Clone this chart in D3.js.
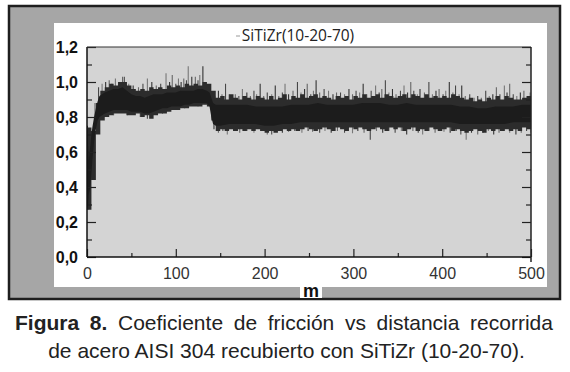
<!DOCTYPE html>
<html lang="es">
<head>
<meta charset="UTF-8">
<title>Figura 8</title>
<script src="https://d3js.org/d3.v7.min.js"></script>
<style>
    body { margin: 0; background: #fff; }
    svg { display: block; }
    .ylab text { font-family: "Liberation Sans", Arial, sans-serif; font-size: 16px; font-weight: bold; fill: #111; }
    .xlab text { font-family: "Liberation Sans", Arial, sans-serif; font-size: 16px; fill: #333; }
    .title { font-family: "Open Sans", sans-serif; font-size: 15.5px; fill: #222; }
    .caption { font-family: "Liberation Sans", Arial, sans-serif; font-size: 21px; fill: #222; }
</style>
</head>
<body>
<div id="chart"></div>
<script>

// distance (m) knots and the dense dark core of the trace (friction coefficient)
const dist   = [0, 1, 2, 3, 4, 5, 6, 8, 10, 12, 14, 17, 20, 25, 30, 35, 40, 45, 50, 55, 60, 65, 70, 75, 80, 85, 90, 95, 100,
                105, 110, 115, 120, 125, 130, 135, 138, 140, 142, 145, 150, 160, 170, 180, 190, 200, 210, 220, 230, 240, 250,
                260, 270, 280, 290, 300, 310, 320, 330, 340, 350, 360, 370, 380, 390, 400, 410, 420, 430, 440, 450, 460, 470,
                480, 490, 500];
const coreLo = [0.30, 0.28, 0.36, 0.38, 0.42, 0.48, 0.55, 0.66, 0.73, 0.78, 0.80, 0.81, 0.82, 0.83, 0.84, 0.84, 0.84, 0.84,
                0.83, 0.83, 0.83, 0.82, 0.82, 0.83, 0.84, 0.85, 0.85, 0.86, 0.86, 0.86, 0.87, 0.87, 0.88, 0.88, 0.88, 0.88,
                0.86, 0.80, 0.76, 0.75, 0.75, 0.76, 0.76, 0.76, 0.76, 0.75, 0.75, 0.76, 0.76, 0.77, 0.77, 0.77, 0.77, 0.77,
                0.77, 0.77, 0.77, 0.77, 0.77, 0.77, 0.77, 0.77, 0.77, 0.77, 0.77, 0.77, 0.77, 0.76, 0.76, 0.76, 0.76, 0.76,
                0.76, 0.77, 0.77, 0.77];
const coreHi = [0.72, 0.65, 0.55, 0.60, 0.65, 0.70, 0.74, 0.80, 0.85, 0.89, 0.92, 0.93, 0.94, 0.95, 0.96, 0.96, 0.97, 0.95,
                0.93, 0.92, 0.92, 0.91, 0.92, 0.93, 0.93, 0.93, 0.94, 0.94, 0.94, 0.95, 0.95, 0.95, 0.95, 0.96, 0.96, 0.95,
                0.94, 0.91, 0.88, 0.87, 0.87, 0.87, 0.87, 0.87, 0.86, 0.86, 0.86, 0.86, 0.87, 0.87, 0.87, 0.88, 0.87, 0.87,
                0.87, 0.87, 0.88, 0.88, 0.88, 0.87, 0.87, 0.88, 0.87, 0.87, 0.87, 0.87, 0.87, 0.86, 0.86, 0.85, 0.85, 0.86,
                0.86, 0.86, 0.87, 0.87];

// ragged noise envelope, sampled every 5 m (0 ... 500)
const envLo = [0.27, 0.44, 0.70, 0.78, 0.80, 0.81, 0.82, 0.82, 0.82, 0.81,
               0.81, 0.82, 0.80, 0.81, 0.79, 0.81, 0.82, 0.82, 0.83, 0.84,
               0.84, 0.85, 0.85, 0.86, 0.86, 0.86, 0.87, 0.86, 0.78, 0.72,
               0.73, 0.72, 0.73, 0.72, 0.73, 0.72, 0.73, 0.72, 0.73, 0.72,
               0.71, 0.72, 0.71, 0.72, 0.73, 0.72, 0.73, 0.72, 0.73, 0.74,
               0.73, 0.72, 0.73, 0.74, 0.73, 0.72, 0.74, 0.73, 0.72, 0.74,
               0.73, 0.74, 0.73, 0.72, 0.73, 0.74, 0.73, 0.72, 0.74, 0.73,
               0.74, 0.72, 0.73, 0.74, 0.72, 0.73, 0.72, 0.74, 0.73, 0.72,
               0.73, 0.74, 0.72, 0.73, 0.72, 0.71, 0.72, 0.73, 0.72, 0.71,
               0.73, 0.72, 0.73, 0.72, 0.73, 0.72, 0.73, 0.72, 0.74, 0.73,
               0.73];
const envHi = [0.74, 0.72, 0.88, 0.95, 0.97, 0.99, 0.98, 1.00, 1.00, 0.98,
               0.96, 0.95, 0.96, 0.95, 0.97, 0.96, 0.97, 0.96, 0.98, 0.97,
               0.98, 0.97, 0.99, 0.98, 0.99, 0.98, 1.00, 0.99, 0.95, 0.91,
               0.92, 0.90, 0.93, 0.91, 0.90, 0.92, 0.91, 0.90, 0.92, 0.91,
               0.90, 0.92, 0.90, 0.91, 0.93, 0.90, 0.92, 0.91, 0.93, 0.91,
               0.92, 0.93, 0.91, 0.92, 0.91, 0.90, 0.92, 0.91, 0.92, 0.90,
               0.92, 0.91, 0.93, 0.91, 0.92, 0.93, 0.91, 0.93, 0.92, 0.91,
               0.92, 0.93, 0.91, 0.93, 0.92, 0.91, 0.93, 0.91, 0.92, 0.91,
               0.92, 0.91, 0.93, 0.92, 0.91, 0.90, 0.91, 0.89, 0.90, 0.89,
               0.91, 0.90, 0.92, 0.90, 0.92, 0.91, 0.90, 0.90, 0.91, 0.92,
               0.91];
const envDist = d3.range(0, 501, 5);

// upward spikes [m, mu]
const peaks = [[0.5, 0.75], [9, 0.88], [13, 0.97], [17, 0.99], [21, 1.00], [25, 1.01], [28, 0.99], [32, 1.02], [36, 1.00],
    [40, 1.03], [42, 1.03], [47, 0.99], [52, 0.98], [58, 0.97], [63, 0.99], [68, 1.02], [73, 1.00], [78, 0.98], [83, 0.99],
    [89, 1.05], [93, 1.00], [96, 1.04], [100, 0.99], [103, 1.02], [106, 1.00], [109, 1.02], [112, 1.01], [114, 1.09],
    [118, 1.03], [122, 1.03], [125, 1.01], [127, 1.04], [130.5, 1.09], [134, 1.00], [139, 0.97], [144, 0.92], [148, 0.95],
    [152, 0.93], [156, 0.99], [160, 0.93], [164, 0.91], [167, 0.93], [171, 0.92], [175, 0.96], [180, 0.94], [184, 0.92],
    [188, 0.95], [191, 0.93], [195, 0.99], [199, 0.92], [203, 0.94], [208, 0.93], [212, 0.98], [216, 0.92], [220, 0.94],
    [223, 0.99], [227, 0.93], [232, 0.95], [237, 1.00], [241, 0.94], [245, 0.96], [248, 0.99], [252, 0.93], [255, 0.95],
    [258, 1.01], [262, 0.94], [267, 0.96], [272, 0.95], [277, 0.93], [281, 0.94], [285.5, 0.94], [290, 0.93], [295, 0.96],
    [299, 0.93], [303, 0.95], [307, 0.94], [311, 0.99], [315, 0.93], [320, 0.95], [325, 0.98], [329, 0.94], [332, 0.96],
    [336, 1.01], [340, 0.94], [344, 0.96], [348, 0.93], [353, 0.95], [357, 0.98], [361, 0.94], [364.6, 1.00], [368, 0.95],
    [372, 0.93], [375, 0.96], [380, 0.94], [385, 1.00], [389, 0.93], [393, 0.95], [396.5, 0.96], [401, 0.93], [404, 0.95],
    [408, 1.00], [412, 0.94], [415, 0.98], [419, 0.93], [422, 0.98], [426, 0.92], [431, 0.93], [436, 0.91], [440, 0.92],
    [444, 0.91], [449, 0.95], [453, 0.92], [457, 0.93], [461, 0.97], [465, 0.93], [470, 0.98], [473, 0.94], [476, 0.99],
    [480, 0.93], [484, 0.92], [488, 0.94], [492, 0.95], [496, 0.92], [499, 0.94]];

// downward spikes [m, mu]
const dips = [[1, 0.27], [22, 0.80], [30, 0.81], [45, 0.81], [60, 0.80], [68, 0.79], [72, 0.80], [85, 0.82], [98, 0.84],
    [110, 0.85], [125, 0.86], [143, 0.73], [148, 0.71], [153, 0.72], [158, 0.70], [165, 0.72], [172, 0.71], [180, 0.72],
    [188, 0.71], [196, 0.72], [203, 0.70], [208, 0.70], [214, 0.72], [220, 0.71], [227, 0.716], [234, 0.72], [242, 0.71],
    [249, 0.72], [254, 0.716], [262, 0.71], [268, 0.72], [275, 0.71], [282, 0.72], [290, 0.71], [299, 0.707], [305, 0.72],
    [312, 0.71], [319, 0.67], [326, 0.72], [333, 0.71], [340, 0.72], [347, 0.71], [354, 0.72], [360, 0.70], [367, 0.72],
    [373, 0.71], [378, 0.70], [385, 0.72], [392, 0.71], [397, 0.72], [402, 0.716], [409, 0.71], [416, 0.72], [421, 0.70],
    [427, 0.67], [433, 0.71], [440, 0.70], [446, 0.71], [452, 0.72], [458, 0.70], [464, 0.71], [470, 0.72], [476, 0.71],
    [483, 0.70], [489, 0.71], [495, 0.72], [500, 0.71]];

const xMajor = [0, 100, 200, 300, 400, 500];
const xMinor = [50, 150, 250, 350, 450];
const yMajor = [0, 0.2, 0.4, 0.6, 0.8, 1.0, 1.2];
const yMinor = [0.1, 0.3, 0.5, 0.7, 0.9, 1.1];

const W = 570, H = 372;
const svg = d3.select("#chart").append("svg")
    .attr("width", W)
    .attr("height", H);

// frame: gray panel with dark border, white inner panel
svg.append("rect")
    .attr("x", 9).attr("y", 6).attr("width", 551).attr("height", 293)
    .attr("fill", "#a6a6a6").attr("stroke", "#1e1e1e").attr("stroke-width", 2.5);
svg.append("rect")
    .attr("x", 54).attr("y", 23).attr("width", 493).attr("height", 264)
    .attr("fill", "#fff");

const x = d3.scaleLinear().domain([0, 500]).range([87, 531]);
const y = d3.scaleLinear().domain([0, 1.2]).range([257, 47]);

// plot background
svg.append("rect")
    .attr("x", x(0)).attr("y", y(1.2))
    .attr("width", x(500) - x(0)).attr("height", y(0) - y(1.2))
    .attr("fill", "#d4d4d4");

svg.append("defs").append("clipPath").attr("id", "plotClip")
    .append("rect")
    .attr("x", x(0)).attr("y", y(1.2))
    .attr("width", x(500) - x(0)).attr("height", y(0) - y(1.2));

const plot = svg.append("g").attr("clip-path", "url(#plotClip)");

// helpers to find the band at a spike position
const loAt = d3.scaleLinear().domain(dist).range(coreLo);
const hiAt = d3.scaleLinear().domain(dist).range(coreHi);
const shades = ["#333", "#666", "#474747", "#777"];

plot.selectAll(".peak")
    .data(peaks)
    .enter()
    .append("line")
    .attr("class", "peak")
    .attr("x1", d => x(d[0])).attr("x2", d => x(d[0]))
    .attr("y1", d => y(d[1]))
    .attr("y2", d => y((loAt(d[0]) + hiAt(d[0])) / 2))
    .attr("stroke", (d, i) => shades[i % 4])
    .attr("stroke-width", 1.1);

plot.selectAll(".dip")
    .data(dips)
    .enter()
    .append("line")
    .attr("class", "dip")
    .attr("x1", d => x(d[0])).attr("x2", d => x(d[0]))
    .attr("y1", d => y(d[1]))
    .attr("y2", d => y((loAt(d[0]) + hiAt(d[0])) / 2))
    .attr("stroke", (d, i) => shades[(i + 1) % 4])
    .attr("stroke-width", 1.1);

// ragged fringe
const fringe = d3.area()
    .curve(d3.curveStepAfter)
    .x((d, i) => x(d))
    .y0((d, i) => y(envLo[i]))
    .y1((d, i) => y(envHi[i]));

plot.append("path")
    .datum(envDist)
    .attr("d", fringe)
    .attr("fill", "#2c2c2c");

// dense core
const band = d3.area()
    .x((d, i) => x(d))
    .y0((d, i) => y(coreLo[i]))
    .y1((d, i) => y(coreHi[i]));

plot.append("path")
    .datum(dist)
    .attr("d", band)
    .attr("fill", "#1c1c1c");

// axes
const fmt = d3.formatLocale({ decimal: ",", thousands: ".", grouping: [3], currency: ["", ""] }).format(".1f");

function styleAxis(g) {
    g.select(".domain").remove();
    g.selectAll(".tick line").attr("stroke", "#222").attr("stroke-width", 1.2);
}

svg.append("g").attr("class", "ylab")
    .attr("transform", `translate(${x(0)},0)`)
    .call(d3.axisLeft(y).tickValues(yMajor).tickSize(-9).tickPadding(9).tickFormat(fmt))
    .call(styleAxis)
    .call(g => g.selectAll("text").attr("font-family", null).attr("font-size", null));

svg.append("g")
    .attr("transform", `translate(${x(0)},0)`)
    .call(d3.axisLeft(y).tickValues(yMinor).tickSize(-5).tickFormat(""))
    .call(styleAxis);

svg.append("g")
    .attr("transform", `translate(${x(500)},0)`)
    .call(d3.axisRight(y).tickValues(yMajor).tickSize(-9).tickFormat(""))
    .call(styleAxis);

svg.append("g")
    .attr("transform", `translate(${x(500)},0)`)
    .call(d3.axisRight(y).tickValues(yMinor).tickSize(-5).tickFormat(""))
    .call(styleAxis);

svg.append("g").attr("class", "xlab")
    .attr("transform", `translate(0,${y(0)})`)
    .call(d3.axisBottom(x).tickValues(xMajor).tickSize(-8).tickPadding(11).tickFormat(d3.format("d")))
    .call(styleAxis)
    .call(g => g.selectAll("text").attr("font-family", null).attr("font-size", null));

svg.append("g")
    .attr("transform", `translate(0,${y(0)})`)
    .call(d3.axisBottom(x).tickValues(xMinor).tickSize(-4).tickFormat(""))
    .call(styleAxis);

// plot frame lines
svg.append("line")
    .attr("x1", x(0)).attr("x2", x(0)).attr("y1", y(1.2)).attr("y2", y(0))
    .attr("stroke", "#111").attr("stroke-width", 1.5);
svg.append("line")
    .attr("x1", x(0)).attr("x2", x(500)).attr("y1", y(0)).attr("y2", y(0))
    .attr("stroke", "#111").attr("stroke-width", 1.5);
svg.append("line")
    .attr("x1", x(0)).attr("x2", x(500)).attr("y1", y(1.2)).attr("y2", y(1.2))
    .attr("stroke", "#333").attr("stroke-width", 1.2);
svg.append("line")
    .attr("x1", x(500)).attr("x2", x(500)).attr("y1", y(1.2)).attr("y2", y(0) + 5)
    .attr("stroke", "#222").attr("stroke-width", 1.5);

// title with its tiny legend mark
svg.append("line")
    .attr("x1", 236).attr("x2", 240).attr("y1", 36).attr("y2", 36)
    .attr("stroke", "#999").attr("stroke-width", 1);
svg.append("text")
    .attr("class", "title")
    .attr("x", 298).attr("y", 41)
    .attr("text-anchor", "middle")
    .text("SiTiZr(10-20-70)");

// x axis name
svg.append("rect")
    .attr("x", 300).attr("y", 285).attr("width", 22).attr("height", 13)
    .attr("fill", "#fff");
svg.append("text")
    .attr("x", 311).attr("y", 297)
    .attr("text-anchor", "middle")
    .style("font-family", "'Liberation Sans', Arial, sans-serif")
    .style("font-size", "18px").style("font-weight", "bold").style("fill", "#111")
    .text("m");

// caption: first line is justified, last line centred
const cap1 = svg.append("text")
    .attr("class", "caption")
    .attr("x", 15).attr("y", 330);
cap1.append("tspan").style("font-weight", "bold").text("Figura 8.");
cap1.append("tspan").text(" Coeficiente de fricción vs distancia recorrida");
const natural = cap1.node().getComputedTextLength();
cap1.style("word-spacing", ((538 - natural) / 7) + "px");

svg.append("text")
    .attr("class", "caption")
    .attr("x", 286.5).attr("y", 358)
    .attr("text-anchor", "middle")
    .text("de acero AISI 304 recubierto con SiTiZr (10-20-70).");

</script>
</body>
</html>
